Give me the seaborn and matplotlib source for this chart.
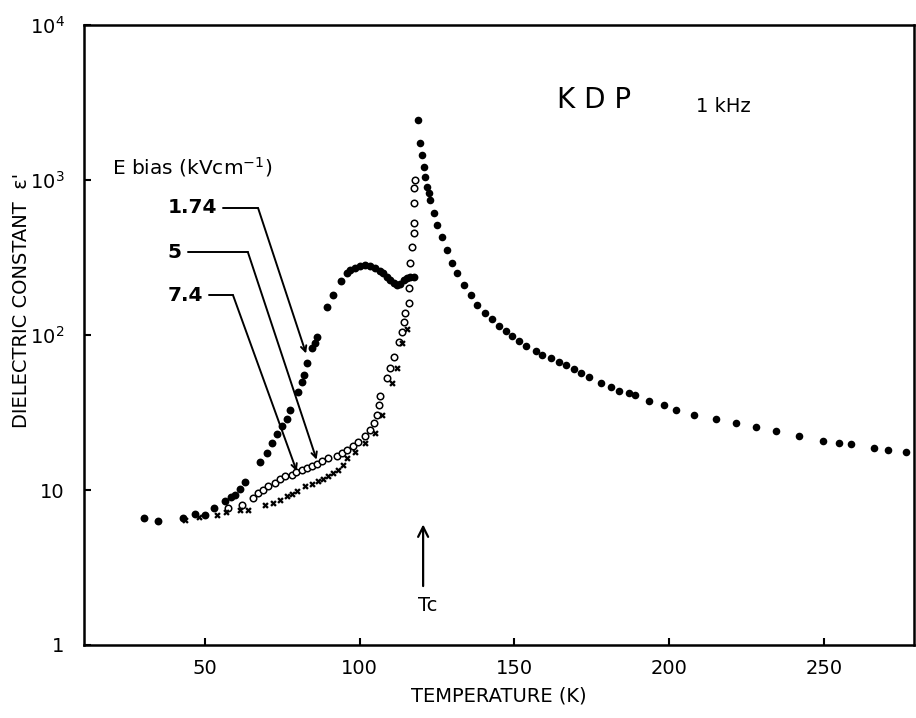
import numpy as np
import pandas as pd
import matplotlib
matplotlib.use("Agg")
import matplotlib.pyplot as plt
import seaborn as sns

# KDP dielectric constant vs temperature, 1 kHz, several bias fields

# paraelectric branch above Tc (all fields merge here)
t_para = [119.0, 119.6, 120.2, 120.7, 121.2, 121.7, 122.3, 122.8, 123.9, 125.0,
          126.6, 128.2, 129.8, 131.4, 133.6, 135.8, 137.9, 140.6, 142.8, 144.9,
          147.1, 149.3, 151.4, 153.6, 156.8, 159.0, 161.7, 164.3, 166.5, 169.2,
          171.4, 174.0, 177.8, 181.1, 183.7, 187.0, 189.0, 193.4, 198.2, 202.0,
          207.9, 215.0, 221.4, 227.9, 234.4, 241.9, 249.5, 254.9, 258.6, 266.2,
          270.5, 276.4]
eps_para = [2440, 1725, 1450, 1218, 1050, 906, 820, 743, 610, 512,
            431, 353, 290, 250, 210, 181, 156, 138, 126, 114,
            106, 98.6, 91.9, 85, 79.2, 74.3, 71.4, 66.7, 63.7, 60,
            57.1, 53.8, 49.2, 46.4, 43.7, 42, 41.2, 37.7, 35.5, 33,
            30.6, 28.8, 27, 25.5, 23.9, 22.2, 20.8, 20.1, 19.7, 18.7,
            18.0, 17.5]

# E bias = 1.74 kV/cm (filled dots)
t_174 = [30.3, 34.8, 42.9, 46.8, 50.0, 53.0, 56.5, 58.5, 59.7, 61.5,
         63.0, 67.8, 70.0, 71.7, 73.4, 75.0, 76.5, 77.5, 80.1, 81.4,
         82.1, 83.1, 84.5, 85.6, 86.1, 89.4, 91.3, 94.0, 95.9, 97.0,
         98.5, 100.0, 101.8, 103.5, 105.0, 106.5, 107.7, 108.8, 109.9, 111.0,
         112.0, 113.0, 114.2, 115.3, 116.3, 117.4]
eps_174 = [6.6, 6.3, 6.6, 7.0, 6.9, 7.65, 8.5, 9.0, 9.3, 10.2,
           11.3, 15.2, 17.3, 20, 23, 25.8, 28.8, 32.6, 43, 50,
           55, 66, 82, 88.6, 97, 152, 181, 224, 250, 262,
           269, 278, 283, 280, 269, 260, 250, 238, 226, 215,
           210, 212, 226, 232, 236, 238]

# E bias = 5 kV/cm (open circles)
t_5 = [57.5, 61.9, 65.6, 67.3, 68.9, 70.5, 72.7, 74.3, 75.9, 78.0,
       79.6, 81.3, 83.0, 84.5, 86.2, 87.8, 89.9, 92.6, 94.3, 95.9,
       98.0, 99.6, 101.8, 103.4, 104.5, 105.6, 106.1, 106.6, 108.8, 109.9,
       111.0, 112.6, 113.7, 114.2, 114.8, 115.9, 116.1, 116.3, 116.9, 117.4,
       117.4, 117.7, 117.7, 117.9]
eps_5 = [7.65, 8.0, 8.9, 9.6, 10.05, 10.6, 11.1, 11.8, 12.3, 12.5,
         13.0, 13.5, 13.9, 14.2, 14.7, 15.3, 16.1, 16.5, 17.3, 18.1,
         19.1, 20.5, 22.2, 24.4, 27, 30.6, 35.5, 40.2, 52.6, 61,
         72.5, 90.5, 105, 122, 138, 160, 200, 290, 371, 453,
         525, 707, 884, 1000]

# E bias = 7.4 kV/cm (small crosses)
t_74 = [43.5, 48.0, 53.8, 57.0, 61.3, 64.0, 69.4, 72.0, 74.3, 76.4,
        78.0, 79.7, 82.4, 84.5, 86.7, 88.3, 89.9, 91.5, 93.1, 94.5,
        95.9, 98.5, 101.8, 105.0, 107.2, 110.4, 112.0, 113.7, 115.3]
eps_74 = [6.4, 6.7, 6.9, 7.2, 7.45, 7.45, 8.0, 8.3, 8.6, 9.1,
          9.4, 9.8, 10.6, 11.0, 11.4, 11.8, 12.3, 12.9, 13.5, 14.6,
          16.1, 17.7, 20.1, 23.3, 30.6, 48.8, 61, 88.4, 110]

bias_labels = ["1.74", "5", "7.4"]

df_para = pd.DataFrame({"T": t_para, "eps": eps_para})
df_174 = pd.DataFrame({"T": t_174, "eps": eps_174})
df_5 = pd.DataFrame({"T": t_5, "eps": eps_5})
df_74 = pd.DataFrame({"T": t_74, "eps": eps_74})

sns.set_style("ticks")
plt.rcParams["font.family"] = ["DejaVu Sans"]
plt.rcParams["mathtext.default"] = "regular"
plt.rcParams["text.color"] = "black"
plt.rcParams["axes.labelcolor"] = "black"
plt.rcParams["xtick.color"] = "black"
plt.rcParams["ytick.color"] = "black"

fig = plt.figure(figsize=(9.16, 7.18), dpi=100)
ax = fig.add_axes([84 / 916, 73 / 718, 830 / 916, 620 / 718])

sns.scatterplot(data=df_para, x="T", y="eps", ax=ax, color="black",
                s=30, marker="o", edgecolor="black", linewidth=0)
sns.scatterplot(data=df_174, x="T", y="eps", ax=ax, color="black",
                s=32, marker="o", edgecolor="black", linewidth=0)
sns.scatterplot(data=df_5, x="T", y="eps", ax=ax, color="white",
                s=22, marker="o", edgecolor="black", linewidth=1.1)
sns.scatterplot(data=df_74, x="T", y="eps", ax=ax, color="black",
                s=22, marker="X", edgecolor="black", linewidth=0)

ax.set_yscale("log")
ax.set_xlim(11, 279)
ax.set_ylim(1, 1e4)
ax.set_xticks([50, 100, 150, 200, 250])
ax.set_yticks([1, 10, 100, 1000, 10000],
              ["1", "10", "$10^2$", "$10^3$", "$10^4$"])
ax.minorticks_off()
ax.tick_params(direction="in", length=5, width=1.5, labelsize=14,
               color="black", labelcolor="black")
ax.tick_params(axis="y", pad=14)
ax.tick_params(axis="x", pad=10)
for sp in ax.spines.values():
    sp.set_linewidth(1.8)
    sp.set_color("black")

ax.set_xlabel("TEMPERATURE (K)", fontsize=14, labelpad=6, color="black")
ax.set_ylabel("")
fig.text(22 / 916, 1 - 300 / 718, "DIELECTRIC CONSTANT  \u03b5'", rotation=90,
         ha="center", va="center", fontsize=14, color="black")

# annotations
ax.text(163.6, 3280, "K D P", fontsize=20, va="center", ha="left")
ax.text(208.6, 3000, "1 kHz", fontsize=14, va="center", ha="left")
ax.text(19.9, 1213, "E bias (kVcm$^{-1}$)", fontsize=14.5, va="center", ha="left")

callouts = [  # label right end, corner, arrow tip
    ((53.9, 660), (67.2, 660), (82.7, 76)),
    ((42.6, 343), (63.9, 343), (86.1, 15.7)),
    ((49.4, 181), (59.1, 181), (79.7, 13.2)),
]
for lab, (lpos, corner, tip) in zip(bias_labels, callouts):
    ax.text(lpos[0], lpos[1], lab, fontsize=14.5, fontweight="bold",
            ha="right", va="center")
    ax.plot([lpos[0] + 2, corner[0]], [lpos[1], corner[1]], color="black", lw=1.4)
    ax.annotate("", xy=tip, xytext=corner,
                arrowprops=dict(arrowstyle="->", color="black", lw=1.4,
                                shrinkA=0, shrinkB=0))

# Tc marker
ax.annotate("", xy=(120.5, 6.0), xytext=(120.5, 2.4),
            arrowprops=dict(arrowstyle="->", color="black", lw=1.6,
                            shrinkA=0, shrinkB=0, mutation_scale=18))
ax.text(122, 1.8, "Tc", fontsize=14, ha="center", va="center")

fig.savefig("out.png", dpi=100)
